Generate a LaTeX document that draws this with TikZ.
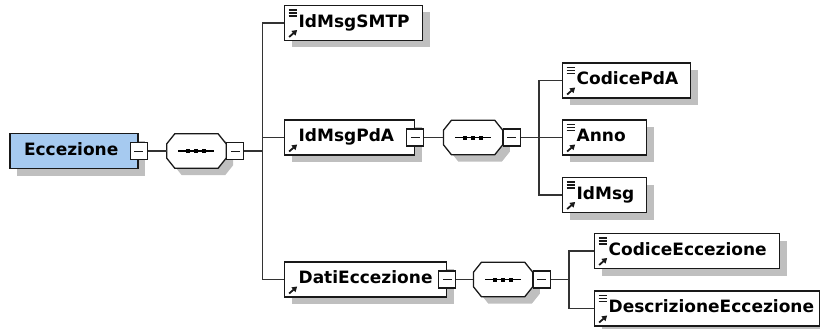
\documentclass[tikz,border=0pt]{standalone}
\usepackage{fontspec}
\setmainfont{DejaVu Sans}
\usetikzlibrary{arrows.meta,positioning,shadows}
\definecolor{rootblue}{RGB}{166,202,240}

% octagon of a sequence compositor, drawn round an empty node
\newcommand\seqbox[1]{%
  \draw[seqline] ([xshift=8pt]#1.north west) -- ([xshift=-8pt]#1.north east)
    -- ([yshift=-10pt]#1.north east) -- ([yshift=10pt]#1.south east)
    -- ([xshift=-8pt]#1.south east) -- ([xshift=8pt]#1.south west)
    -- ([yshift=10pt]#1.south west) -- ([yshift=-10pt]#1.north west) -- cycle;
  \draw[line width=1.2pt] ([xshift=-18pt]#1.center) -- ([xshift=18pt]#1.center);
  \foreach \dx in {-8,0,8}
    \fill[black] ([xshift=\dx pt]#1.center) +(-2,-2) rectangle +(2,2);}

\begin{document}
\begin{tikzpicture}[x=1pt,y=-1pt,font=\bfseries\fontsize{17}{19}\selectfont,
  shade/.style={drop shadow={shadow xshift=7pt,shadow yshift=-7pt,fill=black!25,opacity=1}},
  elem/.style={draw=black!90,line width=1.3pt,fill=white,shade,minimum height=35pt,
    inner xsep=14pt,inner ysep=0pt,text width=#1,text height=12pt,text depth=3.5pt},
  root/.style={elem=#1,fill=rootblue},
  cplx/.style={elem=#1,path picture={
    \draw[line width=1.8pt,-{Triangle[length=5pt,width=6pt]}]
      ([shift={(4.5,-3.5)}]path picture bounding box.south west) -- ++(8,-7);}},
  leaf/.style={elem=#1,path picture={
    \foreach \dy in {4.5,7.5,10.5}
      \draw[line width=1.1pt] ([shift={(4,\dy)}]path picture bounding box.north west) -- ++(8,0);
    \draw[line width=1.8pt,-{Triangle[length=5pt,width=6pt]}]
      ([shift={(4.5,-3.5)}]path picture bounding box.south west) -- ++(8,-7);}},
  seq/.style={minimum width=59pt,minimum height=34pt,inner sep=0pt},
  seqline/.style={draw=black!90,line width=1.3pt,fill=white,shade},
  minus/.style={draw=black!90,line width=1.2pt,fill=white,minimum width=17pt,minimum height=17pt,inner sep=0pt,
    path picture={\draw[line width=1pt] ([xshift=-4.5pt]path picture bounding box.center) -- ++(9,0);}},
  wire/.style={line width=1.3pt,black!80}]
\useasboundingbox (0,0) rectangle (820,329);

% root element and its sequence
\node[root=100] (ecc) at (74,151) {Eccezione};
\node[minus] (m0) at (ecc.east) {};
\node[seq,right=19pt of m0] (s0) {};
\seqbox{s0}
\node[minus,anchor=west] (m1) at (s0.east) {};
\coordinate[right=18pt of m1.east] (b0);
\draw[wire] (m0) -- (s0);

\node[leaf=110,anchor=west] (smtp) at (284,23) {IdMsgSMTP};
\node[cplx=102,anchor=west] (pda) at (284,137.5) {IdMsgPdA};
\node[cplx=134,anchor=west] (dati) at (284,279.5) {DatiEccezione};
\draw[wire] (m1) -- (b0);
\foreach \c in {smtp,pda,dati}
  \draw[wire] (b0) |- (\c.west);

% IdMsgPdA
\node[minus] (m2) at (pda.east) {};
\node[seq,right=19pt of m2] (s1) {};
\seqbox{s1}
\node[minus,anchor=west] (m3) at (s1.east) {};
\coordinate[right=18pt of m3.east] (b1);
\draw[wire] (m2) -- (s1);
\draw[wire] (m3) -- (b1);
\node[leaf=100,anchor=west] (cpda) at (562,80.5) {CodicePdA};
\node[leaf=56,anchor=west] (anno) at (562,137.5) {Anno};
\node[leaf=56,anchor=west] (idmsg) at (562,195) {IdMsg};
\foreach \c in {cpda,anno,idmsg}
  \draw[wire] (b1) |- (\c.west);

% DatiEccezione
\node[minus] (m4) at (dati.east) {};
\node[seq,right=17pt of m4] (s2) {};
\seqbox{s2}
\node[minus,anchor=west] (m5) at (s2.east) {};
\coordinate[right=18pt of m5.east] (b2);
\draw[wire] (m4) -- (s2);
\draw[wire] (m5) -- (b2);
\node[leaf=157,anchor=west] (cecc) at (594,251) {CodiceEccezione};
\node[leaf=197,anchor=west] (decc) at (594,308.5) {DescrizioneEccezione};
\foreach \c in {cecc,decc}
  \draw[wire] (b2) |- (\c.west);
\end{tikzpicture}
\end{document}
